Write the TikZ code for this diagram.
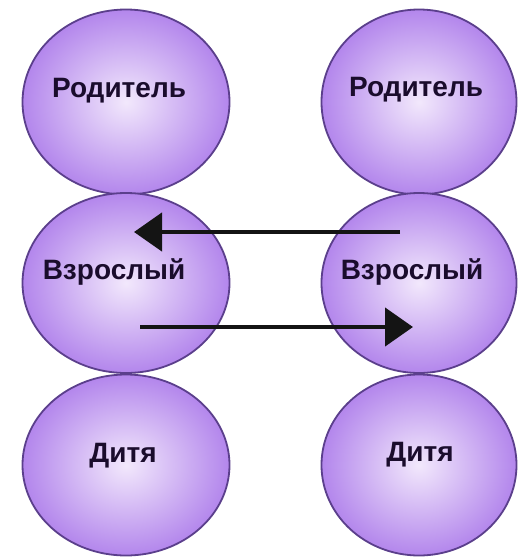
\documentclass[tikz,border=0pt]{standalone}
\usepackage{fontspec}
\setmainfont{Liberation Sans}
\usetikzlibrary{shapes.geometric,arrows.meta}
\definecolor{rim}{HTML}{5B3F8C}
\definecolor{ballout}{HTML}{B386EC}
\definecolor{ballin}{HTML}{F2E8FC}
\definecolor{txt}{HTML}{1A0C2C}
\tikzset{
  ball/.style={ellipse, draw=rim, line width=1.8pt, inner sep=0pt,
    shading=radial, inner color=ballin, outer color=ballout},
  lbl/.style={text=txt, font=\fontsize{28}{32}\selectfont\bfseries},
  flow/.style={line width=4.5pt, draw=black!92, -{Triangle[length=28pt,width=38pt]}}
}
\begin{document}
\begin{tikzpicture}[x=1pt,y=-1pt]
\useasboundingbox[fill=white] (0,0) rectangle (517,557);
% left column
\node[ball, minimum width=207pt, minimum height=185pt] (tl) at (126,102) {};
\node[ball, minimum width=207pt, minimum height=180pt] (ml) at (126,283) {};
\node[ball, minimum width=207pt, minimum height=181pt] (bl) at (126,465) {};
% right column
\node[ball, minimum width=195pt, minimum height=185pt] (tr) at (419,102) {};
\node[ball, minimum width=195pt, minimum height=180pt] (mr) at (419,283) {};
\node[ball, minimum width=195pt, minimum height=181pt] (br) at (419,465) {};
% labels
\node[lbl] (ttl) at (119,91) {Родитель};
\node[lbl] (ttr) at (416,90) {Родитель};
\node[lbl] (tml) at (114,272) {Взрослый};
\node[lbl] (tmr) at (412,272) {Взрослый};
\node[lbl] (tbl) at (123,456) {Дитя};
\node[lbl] (tbr) at (420,455) {Дитя};
% arrows
\coordinate (a1s) at (400,232);
\coordinate (a1e) at (134,232);
\coordinate (a2s) at (140,327);
\coordinate (a2e) at (413,327);
\draw[flow] (a1s) -- (a1e);
\draw[flow] (a2s) -- (a2e);
\end{tikzpicture}
\end{document}
